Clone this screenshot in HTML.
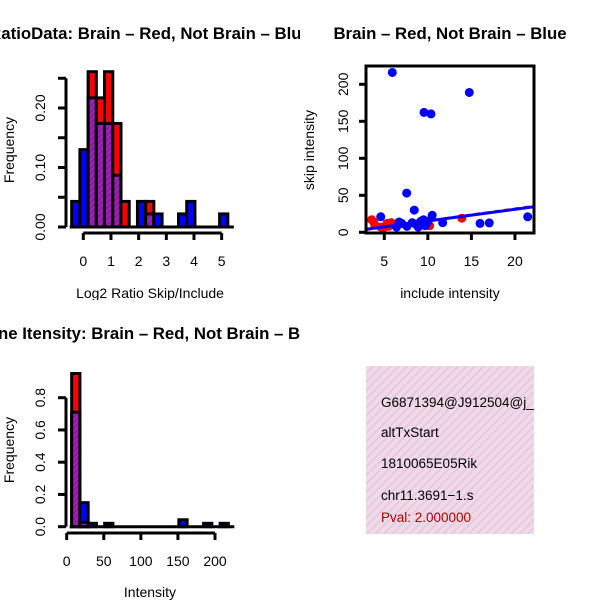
<!DOCTYPE html>
<html><head><meta charset="utf-8"><style>
html,body{margin:0;padding:0;background:#fff;}
svg{display:block;font-family:"Liberation Sans",Arial,sans-serif;}
</style></head><body>
<svg id="fig" width="600" height="600" viewBox="0 0 600 600">
<defs>
<pattern id="hatch" width="4" height="4" patternUnits="userSpaceOnUse" patternTransform="rotate(45)">
<rect width="4" height="4" fill="#8e1a9a"/><rect width="2" height="4" fill="#a020c0"/>
</pattern>
<pattern id="pinkhatch" width="6" height="6" patternUnits="userSpaceOnUse" patternTransform="rotate(45)">
<rect width="6" height="6" fill="#f6d4f2"/><rect width="2" height="6" fill="#dcd4cc"/>
</pattern>
<clipPath id="c1"><rect x="0" y="0" width="300" height="300"/></clipPath>
<clipPath id="c3"><rect x="0" y="300" width="300" height="300"/></clipPath>
<clipPath id="cbox"><rect x="366" y="366" width="168" height="168"/></clipPath>
<clipPath id="cplot"><rect x="366" y="66" width="168" height="167"/></clipPath>
</defs>
<g id="p1" clip-path="url(#c1)"></g>
<g id="p2"></g>
<g id="p3" clip-path="url(#c3)"></g>
<g>
<rect x="366" y="366" width="168" height="168" fill="url(#pinkhatch)"/>
<g clip-path="url(#cbox)" font-size="13.5">
<text x="381" y="407">G6871394@J912504@j_at</text>
<text x="381" y="437">altTxStart</text>
<text x="381" y="468">1810065E05Rik</text>
<text x="381" y="500">chr11.3691−1.s</text>
<text x="381" y="522" fill="#b00000">Pval: 2.000000</text>
</g></g>
</svg>
<script>
// ---- Histogram 1 data (Log2 ratio) ----
const h1Red = [0,0,0.261,0.217,0.261,0.174,0.043,0,0,0.043,0,0,0,0,0,0,0,0,0];
const h1Blue = [0.043,0.13,0.217,0.174,0.174,0.087,0,0,0.043,0.022,0.022,0,0,0.022,0.043,0,0,0,0.022];
const h1Start = -0.42, h1Width = 0.297;
const h1XTicks = [0,1,2,3,4,5];
const h1YTicks = [0,0.05,0.10,0.15,0.20,0.25];
const h1YLabels = ["0.00","","0.10","","0.20",""];
// ---- Histogram 2 data (Intensity) ----
const h2Red = [0.95,0.027,0,0,0,0,0,0,0,0,0,0,0,0,0,0,0,0,0];
const h2Blue = [0.71,0.149,0.021,0,0.021,0,0,0,0,0,0,0,0,0.043,0,0,0.021,0,0.021];
const h2Start = 6.7, h2Width = 11.12;
const h2XTicks = [0,50,100,150,200];
const h2YTicks = [0,0.2,0.4,0.6,0.8];
const h2YLabels = ["0.0","0.2","0.4","0.6","0.8"];
// ---- Scatter data ----
const blueX = [5.92,14.76,9.56,10.36,7.57,8.44,4.59,10.5,11.7,15.99,17.05,21.46,6.7,7.6,8.6,9.2,9.7,8.9,6.4,10.0,7.0,8.2,9.5];
const blueY = [216,189,162,160,53,30,21,23,13,12,12.7,21,14,8,11,15,9,7,7,15,12,13,17];
const redX = [3.55,3.9,4.6,5.3,5.5,13.9,10.2,4.9,3.8,5.8];
const redY = [17,10,7,12,8,19,9,6,14,13];
const blueFit = [-0.5,1.58];
const redFit = [-0.9,1.62];
const scXTicks = [5,10,15,20];
const scYTicks = [0,50,100,150,200];

const NS="http://www.w3.org/2000/svg";
const FS=14, TFS=16.8;
function mk(parent,tag,attrs,txt){const e=document.createElementNS(NS,tag);for(const k in attrs)e.setAttribute(k,attrs[k]);if(txt!==undefined)e.textContent=txt;parent.appendChild(e);return e;}

function histogram(g,cfg){
  const sx=v=>cfg.x0+(v-cfg.xv0)*cfg.kx, sy=v=>cfg.y0-v*cfg.ky;
  for(let i=0;i<cfg.red.length;i++){
    const r=cfg.red[i], b=cfg.blue[i];
    const x1=sx(cfg.start+i*cfg.width), x2=sx(cfg.start+(i+1)*cfg.width);
    const hi=Math.max(r,b), lo=Math.min(r,b);
    if(hi>0){
      const e=mk(g,'rect',{x:x1,y:sy(hi),width:x2-x1,height:sy(0)-sy(hi),fill:r>=b?'#ff0000':'#0000ff',stroke:'#000','stroke-width':3});
      
      
    }
    if(lo>0){
      const e=mk(g,'rect',{x:x1,y:sy(lo),width:x2-x1,height:sy(0)-sy(lo),fill:'url(#hatch)',stroke:'#000','stroke-width':3});
      
      
    }
  }
  const bl=mk(g,'line',{x1:sx(cfg.start)-2,x2:sx(cfg.start+cfg.red.length*cfg.width)+6,y1:sy(0),y2:sy(0),stroke:'#000','stroke-width':3});
  
  
  const xa=mk(g,'g',{});
  
  
  const xt=cfg.xticks;
  mk(xa,'line',{x1:sx(xt[0]),x2:sx(xt[xt.length-1]),y1:cfg.axY,y2:cfg.axY,stroke:'#000','stroke-width':3});
  xt.forEach(t=>{mk(xa,'line',{x1:sx(t),x2:sx(t),y1:cfg.axY,y2:cfg.axY+7,stroke:'#000','stroke-width':3});
    mk(xa,'text',{x:sx(t),y:cfg.axY+33,'text-anchor':'middle','font-size':FS},String(t));});
  const ya=mk(g,'g',{});
  
  
  const yt=cfg.yticks;
  mk(ya,'line',{x1:cfg.axX,x2:cfg.axX,y1:sy(yt[0]),y2:sy(yt[yt.length-1]),stroke:'#000','stroke-width':3});
  yt.forEach((t,i)=>{mk(ya,'line',{x1:cfg.axX-8,x2:cfg.axX,y1:sy(t),y2:sy(t),stroke:'#000','stroke-width':3});
    if(cfg.ylabels[i]) mk(ya,'text',{x:cfg.axX-21,y:sy(t),'text-anchor':'middle','font-size':FS,transform:`rotate(-90 ${cfg.axX-21} ${sy(t)})`},cfg.ylabels[i]);});
  const yl=mk(g,'text',{x:14,y:cfg.yTitleY,'text-anchor':'middle','font-size':FS,transform:`rotate(-90 14 ${cfg.yTitleY})`},'Frequency');
  
  
  const xl=mk(g,'text',{x:150,y:cfg.xTitleY,'text-anchor':'middle','font-size':FS},cfg.xtitle);
  
  
  const ti=mk(g,'text',{x:150,y:cfg.titleY,'text-anchor':'middle','font-size':TFS,'font-weight':'bold'},cfg.title);
  
  
}

histogram(document.getElementById('p1'),{red:h1Red,blue:h1Blue,start:h1Start,width:h1Width,
  x0:83.3,xv0:0,kx:27.67,y0:227,ky:595,xticks:h1XTicks,yticks:h1YTicks,ylabels:h1YLabels,
  axY:233,axX:66,yTitleY:150,xTitleY:298,titleY:39,xtitle:'Log2 Ratio Skip/Include',
  title:'RatioData: Brain – Red, Not Brain – Blue'});
histogram(document.getElementById('p3'),{red:h2Red,blue:h2Blue,start:h2Start,width:h2Width,
  x0:66.7,xv0:0,kx:0.7415,y0:526.7,ky:161.25,xticks:h2XTicks,yticks:h2YTicks,ylabels:h2YLabels,
  axY:533,axX:66,yTitleY:450,xTitleY:597,titleY:339,xtitle:'Intensity',
  title:'Gene Itensity: Brain – Red, Not Brain – Blue'});

(function(){
  const g=document.getElementById('p2');
  const sx=v=>384.3+(v-5)*8.71, sy=v=>232.3-v*0.74;
  const pts=mk(g,'g',{'clip-path':'url(#cplot)'});
  
  
  redX.forEach((x,i)=>{const c=mk(pts,'circle',{cx:sx(x),cy:sy(redY[i]),r:4.5,fill:'#ff0000'});
    
    });
  blueX.forEach((x,i)=>{const c=mk(pts,'circle',{cx:sx(x),cy:sy(blueY[i]),r:4.5,fill:'#0000ff'});
    
    });
  const xa=2.8, xb=22.4;
  const rl=mk(pts,'line',{x1:sx(xa),y1:sy(redFit[0]+redFit[1]*xa),x2:sx(xb),y2:sy(redFit[0]+redFit[1]*xb),stroke:'#ff0000','stroke-width':3,'stroke-dasharray':'6 4'});
  
  
  const bl=mk(pts,'line',{x1:sx(xa),y1:sy(blueFit[0]+blueFit[1]*xa),x2:sx(xb),y2:sy(blueFit[0]+blueFit[1]*xb),stroke:'#0000ff','stroke-width':3});
  
  
  const box=mk(g,'rect',{x:366,y:66,width:168,height:167,fill:'none',stroke:'#000','stroke-width':3});
  
  
  const xg=mk(g,'g',{});
  
  
  scXTicks.forEach(t=>{mk(xg,'line',{x1:sx(t),x2:sx(t),y1:233,y2:240,stroke:'#000','stroke-width':3});
    mk(xg,'text',{x:sx(t),y:266,'text-anchor':'middle','font-size':FS},String(t));});
  const yg=mk(g,'g',{});
  
  
  scYTicks.forEach(t=>{mk(yg,'line',{x1:359,x2:366,y1:sy(t),y2:sy(t),stroke:'#000','stroke-width':3});
    mk(yg,'text',{x:348,y:sy(t),'text-anchor':'middle','font-size':FS,transform:`rotate(-90 348 ${sy(t)})`},String(t));});
  const xl=mk(g,'text',{x:450,y:298,'text-anchor':'middle','font-size':FS},'include intensity');
  
  
  const yl=mk(g,'text',{x:314,y:150,'text-anchor':'middle','font-size':FS,transform:'rotate(-90 314 150)'},'skip intensity');
  
  
  const ti=mk(g,'text',{x:450,y:39,'text-anchor':'middle','font-size':TFS,'font-weight':'bold'},'Brain – Red, Not Brain – Blue');
  
  
})();
</script>
</body></html>
